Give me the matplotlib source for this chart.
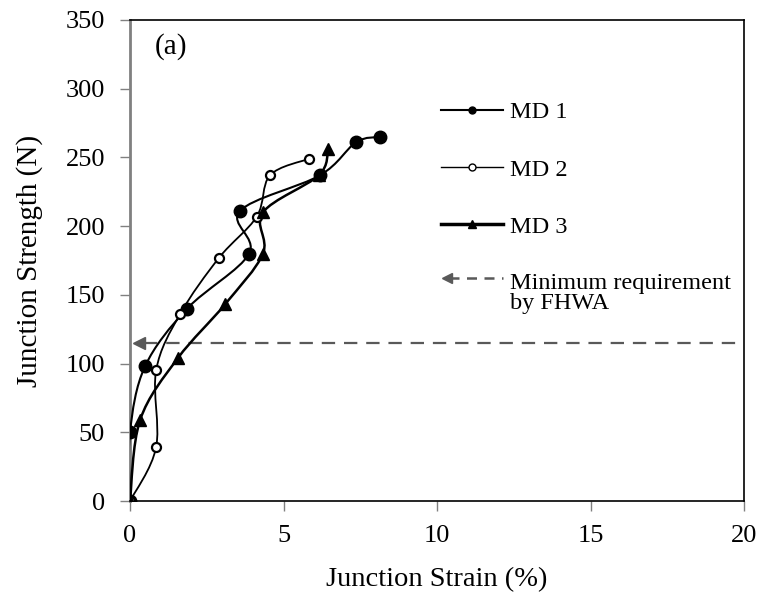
import numpy as np
import matplotlib
matplotlib.use("Agg")
import matplotlib.pyplot as plt
from matplotlib.path import Path
from matplotlib.patches import PathPatch
from matplotlib.lines import Line2D
from matplotlib.legend_handler import HandlerBase

plt.rcParams['font.family'] = ['Liberation Serif', 'DejaVu Serif']

# data
strain_md1 = [0, 0, 0.49, 1.86, 3.88, 3.58, 6.19, 7.36, 8.14]
strength_md1 = [0, 50, 98, 140, 180, 211, 237, 261, 265]

strain_md2 = [0, 0.85, 0.85, 1.63, 2.90, 4.13, 4.56, 5.83]
strength_md2 = [0, 39, 95, 136, 177, 207, 237, 249]

strain_md3 = [0, 0.33, 1.56, 3.09, 4.33, 4.33, 6.15, 6.45]
strength_md3 = [0, 59, 104, 143, 180, 210, 237, 256]

fhwa_min = 115
x_ticks = [0, 5, 10, 15, 20]
y_ticks = [0, 50, 100, 150, 200, 250, 300, 350]


def smooth_path(x, y):
    # excel-like smoothed line: catmull-rom segments as cubic beziers
    p = np.column_stack([x, y]).astype(float)
    n = len(p)
    verts = [p[0]]
    codes = [Path.MOVETO]
    for i in range(n - 1):
        p0 = p[i - 1] if i > 0 else p[i]
        p3 = p[i + 2] if i + 2 < n else p[i + 1]
        c1 = p[i] + (p[i + 1] - p0) / 6.
        c2 = p[i + 1] - (p3 - p[i]) / 6.
        verts += [c1, c2, p[i + 1]]
        codes += [Path.CURVE4] * 3
    return Path(verts, codes)


class ArrowHandler(HandlerBase):
    # dashed arrow handle, sitting on the first line of a two-line label
    def create_artists(self, legend, orig, xdescent, ydescent, width, height, fontsize, trans):
        yc = height / 2. - ydescent + 0.62 * fontsize
        ln = Line2D([-xdescent + 6, -xdescent + width], [yc, yc], color='#595959',
                    ls=(0, (4, 3)), lw=1.8, transform=trans)
        hd = Line2D([-xdescent + 4], [yc], marker='<', ms=7, color='#595959',
                    ls='none', transform=trans)
        return [ln, hd]


fig = plt.figure(figsize=(7.63, 6.0), dpi=100)
ax = fig.add_axes([130/763, 99/600, 614/763, 481/600])

series = [
    (strain_md1, strength_md1, dict(marker='o', mfc='black', mec='black', ms=9, mew=1), 1.5),
    (strain_md2, strength_md2, dict(marker='o', mfc='white', mec='black', ms=6.5, mew=1.6), 1.3),
    (strain_md3, strength_md3, dict(marker='^', mfc='black', mec='black', ms=8, mew=1), 1.8),
]
for xs, ys, mk, lw in series:
    ax.add_patch(PathPatch(smooth_path(xs, ys), fill=False, ec='black', lw=lw, zorder=3))
for xs, ys, mk, lw in series:
    ax.plot(xs, ys, ls='none', zorder=4, **mk)

# minimum requirement line with arrow
ax.plot([0.45, 20], [fhwa_min, fhwa_min], color='#595959', ls=(0, (6, 4)), lw=1.6, zorder=2)
ax.plot([0.3], [fhwa_min], marker='<', ms=9, color='#595959', ls='none', zorder=2)

ax.set_xlim(0, 20)
ax.set_ylim(0, 350)
ax.set_xticks(x_ticks)
ax.set_yticks(y_ticks)
ax.tick_params(labelsize=19, length=7, width=1, color='#808080', direction='out')
ax.tick_params(axis='x', pad=10)
ax.tick_params(axis='y', pad=11)
for s in ['top', 'right', 'bottom']:
    ax.spines[s].set_color('black')
    ax.spines[s].set_linewidth(1.2)
ax.spines['left'].set_color('#808080')
ax.spines['left'].set_linewidth(2)

ax.set_xlabel('Junction Strain (%)', fontsize=20.5, labelpad=15)
ax.set_ylabel('Junction Strength (N)', fontsize=21, labelpad=16)
ax.text(0.04, 0.945, '(a)', transform=ax.transAxes, fontsize=21, va='center', ha='left')

h1 = Line2D([], [], color='black', lw=1.5, marker='o', ms=5, mfc='black', mec='black')
h2 = Line2D([], [], color='black', lw=1.0, marker='o', ms=5, mfc='white', mec='black')
h3 = Line2D([], [], color='black', lw=2.5, marker='^', ms=6, mfc='black', mec='black')
h4 = object()
leg = ax.legend([h1, h2, h3, h4], ['MD 1', 'MD 2', 'MD 3', 'Minimum requirement\nby FHWA'],
                handler_map={h4: ArrowHandler()},
                loc='upper left', bbox_to_anchor=(0.5065, 0.831), frameon=False,
                fontsize=17.5, handlelength=2.55, handletextpad=0.27, labelspacing=1.45,
                borderpad=0, borderaxespad=0)
for t in leg.get_texts():
    t.set_linespacing(0.95)

fig.savefig('out.png', dpi=100)
